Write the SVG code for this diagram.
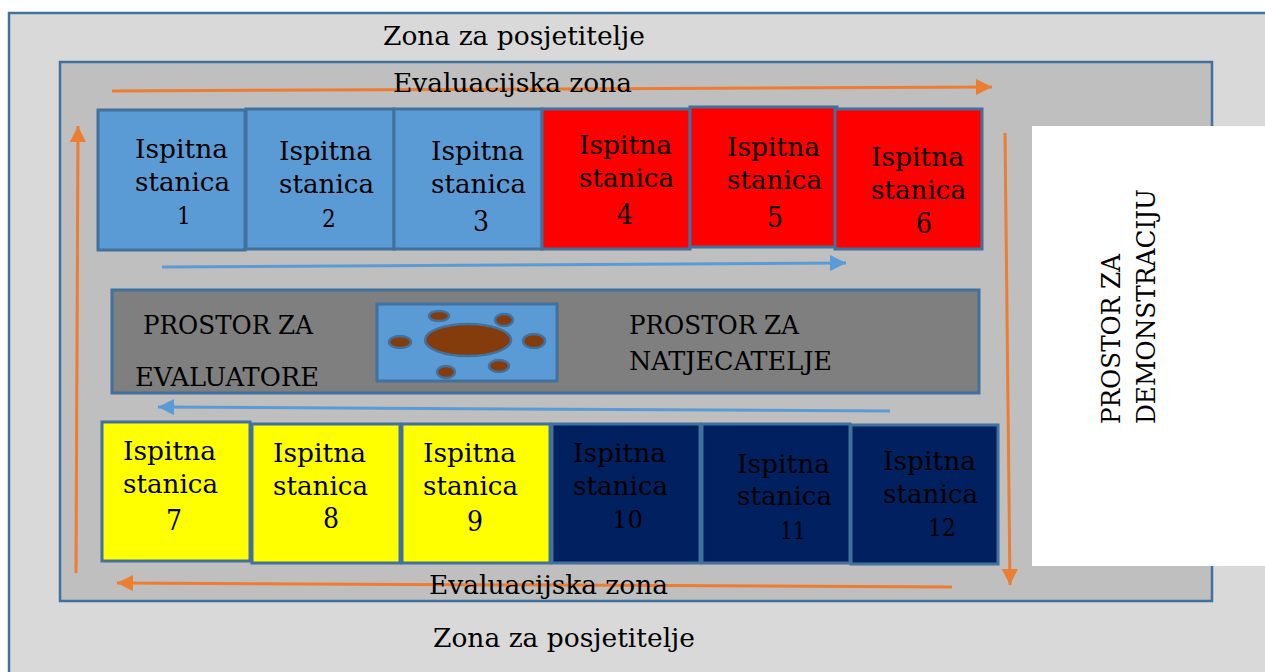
<svg xmlns="http://www.w3.org/2000/svg" width="1265" height="672" viewBox="0 0 1265 672">
<defs>
<style>
text{font-family:"DejaVu Serif Condensed","DejaVu Serif","Liberation Serif",serif;font-size:26.5px;fill:#000}
.d{font-size:28px}
.s{font-size:24px}
.box{stroke:#41719c;stroke-width:3}
.zone{stroke:#41719c;stroke-width:2.5}
.seat{fill:#843c0c;stroke:#41719c;stroke-width:2.5}
.o{stroke:#ed7d31;stroke-width:3;fill:none;marker-end:url(#mo)}
.b{stroke:#5b9bd5;stroke-width:3;fill:none;marker-end:url(#mb)}
.blue{fill:#5b9bd5}.red{fill:#ff0000}.yellow{fill:#ffff00}.navy{fill:#002060}
</style>
<marker id="mo" markerUnits="userSpaceOnUse" markerWidth="16" markerHeight="16" refX="16" refY="8" orient="auto"><path d="M0 0L16 8L0 16Z" fill="#ed7d31"/></marker>
<marker id="mb" markerUnits="userSpaceOnUse" markerWidth="16" markerHeight="16" refX="16" refY="8" orient="auto"><path d="M0 0L16 8L0 16Z" fill="#5b9bd5"/></marker>
</defs>
<rect width="1265" height="672" fill="#fff"/>
<g id="zona-posjetitelje"><rect class="zone" x="9" y="13" width="1270" height="680" fill="#d9d9d9"/>
<text x="383" y="45" textLength="262" lengthAdjust="spacingAndGlyphs">Zona za posjetitelje</text>
<text x="433" y="647" textLength="262" lengthAdjust="spacingAndGlyphs">Zona za posjetitelje</text></g>
<g id="evaluacijska-zona"><rect class="zone" x="60" y="62" width="1152" height="539" fill="#bfbfbf"/></g>
<g id="connectors">
<path class="o" d="M112 91L992 87"/>
<path class="o" d="M76 573L78 126"/>
<path class="o" d="M1005 133L1010 585"/>
<path class="o" d="M952 587L117 583"/>
<path class="b" d="M162 267L846 263"/>
<path class="b" d="M890 411L158 407"/>
</g>
<g id="evaluacijska-labels">
<text x="393" y="92" textLength="239" lengthAdjust="spacingAndGlyphs">Evaluacijska zona</text>
<text x="429" y="594" textLength="239" lengthAdjust="spacingAndGlyphs">Evaluacijska zona</text>
</g>
<g id="stanica-1"><rect class="box blue" x="98" y="110" width="147" height="140"/><text x="135" y="158" textLength="93" lengthAdjust="spacingAndGlyphs">Ispitna</text><text x="135" y="191" textLength="95" lengthAdjust="spacingAndGlyphs">stanica</text><text class="s" x="177" y="224">1</text></g>
<g id="stanica-2"><rect class="box blue" x="246" y="109" width="148" height="140"/><text x="279" y="160" textLength="93" lengthAdjust="spacingAndGlyphs">Ispitna</text><text x="279" y="193" textLength="95" lengthAdjust="spacingAndGlyphs">stanica</text><text class="s" x="322" y="227">2</text></g>
<g id="stanica-3"><rect class="box blue" x="394" y="109" width="148" height="140"/><text x="431" y="160" textLength="93" lengthAdjust="spacingAndGlyphs">Ispitna</text><text x="431" y="193" textLength="95" lengthAdjust="spacingAndGlyphs">stanica</text><text class="d" x="473" y="231">3</text></g>
<g id="stanica-4"><rect class="box red" x="542" y="109" width="148" height="140"/><text x="579" y="154" textLength="93" lengthAdjust="spacingAndGlyphs">Ispitna</text><text x="579" y="187" textLength="95" lengthAdjust="spacingAndGlyphs">stanica</text><text class="d" x="617" y="224">4</text></g>
<g id="stanica-5"><rect class="box red" x="690" y="107" width="147" height="140"/><text x="727" y="156" textLength="93" lengthAdjust="spacingAndGlyphs">Ispitna</text><text x="727" y="189" textLength="95" lengthAdjust="spacingAndGlyphs">stanica</text><text class="d" x="767" y="227">5</text></g>
<g id="stanica-6"><rect class="box red" x="835" y="109" width="147" height="140"/><text x="871" y="166" textLength="93" lengthAdjust="spacingAndGlyphs">Ispitna</text><text x="871" y="199" textLength="95" lengthAdjust="spacingAndGlyphs">stanica</text><text class="d" x="916" y="233">6</text></g>
<g id="prostor-evaluatore"><rect class="box" x="112" y="290" width="867" height="103" fill="#7f7f7f"/>
<text x="143" y="334" textLength="170" lengthAdjust="spacingAndGlyphs">PROSTOR ZA</text>
<text x="135" y="386" textLength="184" lengthAdjust="spacingAndGlyphs">EVALUATORE</text>
<text x="629" y="334" textLength="170" lengthAdjust="spacingAndGlyphs">PROSTOR ZA</text>
<text x="629" y="370" textLength="203" lengthAdjust="spacingAndGlyphs">NATJECATELJE</text></g>
<g id="stol"><rect class="box blue" x="377" y="304" width="180" height="77"/>
<ellipse class="seat" cx="468" cy="340" rx="43" ry="16"/>
<ellipse class="seat" cx="400" cy="342" rx="11" ry="6"/>
<ellipse class="seat" cx="439" cy="316" rx="10" ry="5"/>
<ellipse class="seat" cx="504" cy="320" rx="9" ry="6"/>
<ellipse class="seat" cx="534" cy="341" rx="11" ry="7"/>
<ellipse class="seat" cx="499" cy="366" rx="10" ry="6"/>
<ellipse class="seat" cx="446" cy="372" rx="9" ry="6"/></g>
<g id="stanica-7"><rect class="box yellow" x="102" y="422" width="148" height="139"/><text x="123" y="460" textLength="93" lengthAdjust="spacingAndGlyphs">Ispitna</text><text x="123" y="493" textLength="95" lengthAdjust="spacingAndGlyphs">stanica</text><text class="d" x="166" y="530">7</text></g>
<g id="stanica-8"><rect class="box yellow" x="252" y="424" width="148" height="139"/><text x="273" y="462" textLength="93" lengthAdjust="spacingAndGlyphs">Ispitna</text><text x="273" y="495" textLength="95" lengthAdjust="spacingAndGlyphs">stanica</text><text class="d" x="323" y="528">8</text></g>
<g id="stanica-9"><rect class="box yellow" x="402" y="424" width="148" height="139"/><text x="423" y="462" textLength="93" lengthAdjust="spacingAndGlyphs">Ispitna</text><text x="423" y="495" textLength="95" lengthAdjust="spacingAndGlyphs">stanica</text><text class="d" x="467" y="531">9</text></g>
<g id="stanica-10"><rect class="box navy" x="552" y="424" width="148" height="139"/><text x="573" y="462" textLength="93" lengthAdjust="spacingAndGlyphs">Ispitna</text><text x="573" y="495" textLength="95" lengthAdjust="spacingAndGlyphs">stanica</text><text class="s" x="612" y="528" textLength="31" lengthAdjust="spacingAndGlyphs">10</text></g>
<g id="stanica-11"><rect class="box navy" x="702" y="424" width="148" height="139"/><text x="737" y="473" textLength="93" lengthAdjust="spacingAndGlyphs">Ispitna</text><text x="737" y="505" textLength="95" lengthAdjust="spacingAndGlyphs">stanica</text><text class="s" x="780" y="539" textLength="26" lengthAdjust="spacingAndGlyphs">11</text></g>
<g id="stanica-12"><rect class="box navy" x="851" y="425" width="147" height="139"/><text x="883" y="470" textLength="93" lengthAdjust="spacingAndGlyphs">Ispitna</text><text x="883" y="503" textLength="95" lengthAdjust="spacingAndGlyphs">stanica</text><text class="s" x="928" y="536" textLength="28" lengthAdjust="spacingAndGlyphs">12</text></g>
<g id="prostor-demonstraciju"><rect x="1032" y="126" width="233" height="440" fill="#fff"/>
<text transform="translate(1120 424) rotate(-90)" textLength="170" lengthAdjust="spacingAndGlyphs">PROSTOR ZA</text>
<text transform="translate(1155 424) rotate(-90)" textLength="235" lengthAdjust="spacingAndGlyphs">DEMONSTRACIJU</text></g>
</svg>
